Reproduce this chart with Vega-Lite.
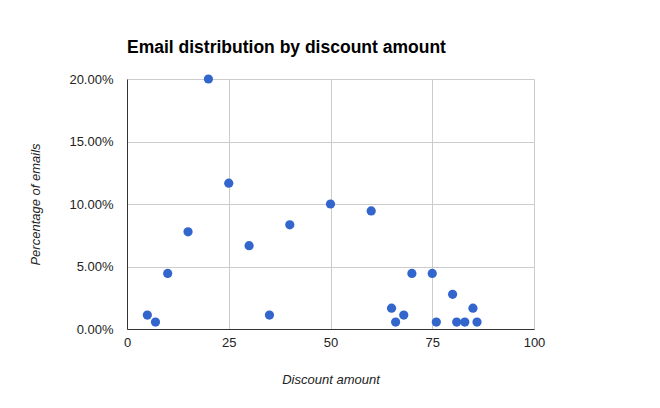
{
  "$schema": "https://vega.github.io/schema/vega-lite/v6.json",
  "width": 407,
  "height": 250,
  "autosize": {"type": "none"},
  "padding": {"left": 127, "top": 79, "right": 126, "bottom": 79},
  "background": "white",
  "title": {
    "text": "Email distribution by discount amount",
    "anchor": "start",
    "frame": "group",
    "font": "Liberation Sans",
    "fontSize": 17.5,
    "fontWeight": "bold",
    "color": "#000000",
    "offset": 17
  },
  "config": {
    "view": {"stroke": null},
    "axis": {
      "labelFont": "Liberation Sans",
      "titleFont": "Liberation Sans",
      "labelFontSize": 13,
      "titleFontSize": 13,
      "labelColor": "#222222",
      "titleColor": "#222222",
      "titleFontStyle": "italic",
      "titleFontWeight": "normal",
      "gridColor": "#cccccc",
      "gridOpacity": 1,
      "ticks": false,
      "domainColor": "#333333"
    }
  },
  "data": {
    "values": [
      {"discount": 5, "pct": 0.011111},
      {"discount": 7, "pct": 0.005556},
      {"discount": 10, "pct": 0.044444},
      {"discount": 15, "pct": 0.077778},
      {"discount": 20, "pct": 0.2},
      {"discount": 25, "pct": 0.116667},
      {"discount": 30, "pct": 0.066667},
      {"discount": 35, "pct": 0.011111},
      {"discount": 40, "pct": 0.083333},
      {"discount": 50, "pct": 0.1},
      {"discount": 60, "pct": 0.094444},
      {"discount": 65, "pct": 0.016667},
      {"discount": 66, "pct": 0.005556},
      {"discount": 68, "pct": 0.011111},
      {"discount": 70, "pct": 0.044444},
      {"discount": 75, "pct": 0.044444},
      {"discount": 76, "pct": 0.005556},
      {"discount": 80, "pct": 0.027778},
      {"discount": 81, "pct": 0.005556},
      {"discount": 83, "pct": 0.005556},
      {"discount": 85, "pct": 0.016667},
      {"discount": 86, "pct": 0.005556}
    ]
  },
  "mark": {"type": "circle", "color": "#3366CC", "opacity": 1, "size": 85},
  "encoding": {
    "x": {
      "field": "discount",
      "type": "quantitative",
      "scale": {"domain": [0, 100], "nice": false},
      "axis": {
        "title": "Discount amount",
        "values": [0, 25, 50, 75, 100],
        "labelPadding": 7,
        "titlePadding": 24,
        "domain": true,
        "labelFlush": false
      }
    },
    "y": {
      "field": "pct",
      "type": "quantitative",
      "scale": {"domain": [0, 0.2], "nice": false},
      "axis": {
        "title": "Percentage of emails",
        "format": ".2%",
        "values": [0, 0.05, 0.1, 0.15, 0.2],
        "labelPadding": 14,
        "titlePadding": 26,
        "domain": true
      }
    }
  }
}
